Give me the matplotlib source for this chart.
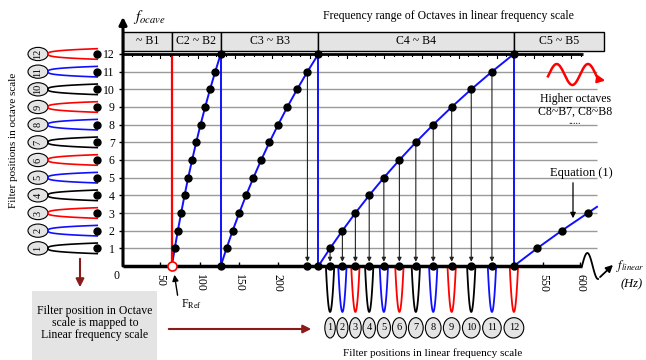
import numpy as np
import matplotlib
matplotlib.use('Agg')
import matplotlib.pyplot as plt
from matplotlib.patches import Ellipse, Rectangle, FancyArrowPatch

plt.rcParams['font.family'] = ['Liberation Serif', 'DejaVu Serif']
plt.rcParams['mathtext.fontset'] = 'stix'

# ---------------- data ----------------
octave_labels = ['~ B1', 'C2 ~ B2', 'C3 ~ B3', 'C4 ~ B4', 'C5 ~ B5']
octave_edges = [0, 65.4, 130.8, 261.6, 523.3, 644]
c2_notes = [65.4, 69.3, 73.4, 77.8, 82.4, 87.3, 92.5, 98.0, 103.8, 110.0, 116.5, 123.5, 130.8]
c3_notes = [130.8, 138.6, 146.8, 155.6, 164.8, 174.6, 185.0, 196.0, 207.7, 220.0, 233.1, 246.9, 261.6]
c4_notes = [261.6, 277.2, 293.7, 311.1, 329.6, 349.2, 370.0, 392.0, 415.3, 440.0, 466.2, 493.9, 523.3]
c5_notes = [523.3, 554.4, 587.3, 622.3]
filter_ids = [1, 2, 3, 4, 5, 6, 7, 8, 9, 10, 11, 12]
x_tick_pos = [50, 103, 155, 207, 562, 612]
x_tick_labels = ['50', '100', '150', '200', '550', '600']
y_ticks = [1, 2, 3, 4, 5, 6, 7, 8, 9, 10, 11, 12]

BLUE = '#1010ff'
RED = '#ff0000'
DRED = '#8b1a1a'
GRAYF = '#e4e4e4'
cycle_colors = ['black', BLUE, RED]

W, H = 646, 360
fig = plt.figure(figsize=(W / 100, H / 100), dpi=100)
ax = fig.add_axes([123 / W, 94 / H, 485.55 / W, 212 / H])
ax.set_xlim(0, 650)
ax.set_ylim(0, 12)
for s in ax.spines.values():
    s.set_visible(False)
ax.patch.set_visible(False)


def P(px, py):
    return (px / W, 1 - py / H)


# grid lines
ax.hlines(y_ticks[:-1], 0, 634, color='#9a9a9a', lw=1.0, zorder=1)

# axes lines
ax.plot([0, 614], [0, 0], color='k', lw=2.5, solid_capstyle='butt', zorder=5, clip_on=False)
ax.plot([0, 616], [12, 12], color='k', lw=2.0, solid_capstyle='butt', zorder=5, clip_on=False)
for f in np.arange(12.5, 616, 12.5):
    ln = 0.2 if abs(f / 50 - round(f / 50)) < 1e-6 else 0.12
    ax.plot([f, f], [12, 12 - ln], color='k', lw=0.8, zorder=5)
ax.annotate('', xy=(0, 14.1), xytext=(0, 0),
            arrowprops=dict(arrowstyle='-|>', lw=2.2, color='k', mutation_scale=11,
                            shrinkA=0, shrinkB=0), annotation_clip=False, zorder=6)

# header boxes
for i, lab in enumerate(octave_labels):
    x0, x1 = octave_edges[i], octave_edges[i + 1]
    ax.add_patch(Rectangle((x0, 12.17), x1 - x0, 1.07, fc=GRAYF, ec='k', lw=1.0,
                           clip_on=False, zorder=4))
    ax.text((x0 + x1) / 2, 12.72, lab, ha='center', va='center', fontsize=8.5, zorder=5)

# octave curves
levels = list(range(13))
for notes in [c2_notes, c3_notes, c4_notes]:
    ax.plot(notes, levels, color=BLUE, lw=1.4, zorder=3)
    ax.plot([notes[-1], notes[-1]], [12, 0], color=BLUE, lw=1.4, zorder=3)
    ax.plot(notes[1:], levels[1:], 'o', color='k', ms=5, zorder=6, clip_on=False)
ax.plot([c2_notes[0], c2_notes[0]], [0, 12], color=RED, lw=1.6, zorder=3)
# C5 partial octave (line extended slightly past last dot)
c5x = list(c5_notes) + [c5_notes[-1] + 0.35 * (c5_notes[-1] - c5_notes[-2])]
c5y = list(range(len(c5_notes))) + [len(c5_notes) - 1 + 0.35]
ax.plot(c5x, c5y, color=BLUE, lw=1.4, zorder=3)
ax.plot(c5_notes[1:], levels[1:len(c5_notes)], 'o', color='k', ms=5, zorder=6)

# mapping arrows
maps = [(c3_notes[11], 11)] + [(c4_notes[n], n) for n in range(1, 12)]
for fx, lv in maps:
    ax.annotate('', xy=(fx, 0), xytext=(fx, lv),
                arrowprops=dict(arrowstyle='-|>', lw=0.8, color='#222222', mutation_scale=6,
                                shrinkA=0, shrinkB=3), zorder=4)
axis_dots = [c3_notes[0], c3_notes[11]] + c4_notes
ax.plot(axis_dots, [0] * len(axis_dots), 'o', color='k', ms=5, zorder=7, clip_on=False)
ax.plot([c2_notes[0]], [0], 'o', mfc='white', mec=RED, ms=6.5, mew=1.2, zorder=7, clip_on=False)

# filters in linear scale (bottom)
for i, fid in enumerate(filter_ids):
    fc = c4_notes[fid]
    col = cycle_colors[i % 3]
    w = 5.6
    dx = np.linspace(-w, w, 60)
    ax.plot(fc + dx, -2.6 * (1 - (dx / w) ** 2), color=col, lw=1.3, clip_on=False, zorder=3)
    ew = 0.9 * (c4_notes[fid] - c4_notes[fid - 1])
    ax.add_patch(Ellipse((fc, -3.5), ew, 1.15, fc=GRAYF, ec='k', lw=0.8, clip_on=False))
    ax.text(fc, -3.5, str(fid), ha='center', va='center', fontsize=7.5)

# filters in octave scale (left)
for i, fid in enumerate(filter_ids):
    col = cycle_colors[i % 3]
    s = np.linspace(-1, 1, 101)
    ax.plot(-100.5 + 66 * np.abs(s) ** 3, fid + 0.3 * s, color=col, lw=1.2, clip_on=False)
    ax.plot([-34.8], [fid], 'o', color='k', ms=5, clip_on=False, zorder=6)
    ax.add_patch(Ellipse((-113.8, fid), 26.8, 0.75, fc=GRAYF, ec='k', lw=0.8, clip_on=False))
    ax.text(-113.8, fid, str(fid), ha='center', va='center', rotation=90, fontsize=7.5)

# ticks
ax.set_yticks(y_ticks)
ax.set_yticklabels([str(v) for v in y_ticks])
ax.tick_params(axis='y', direction='out', length=3, width=1, labelsize=8.5, pad=3)
ax.set_xticks(x_tick_pos)
ax.set_xticklabels(x_tick_labels, rotation=270)
ax.tick_params(axis='x', direction='in', length=3, width=1, labelsize=8.5, pad=6)

# texts
fig.text(*P(448, 16), 'Frequency range of Octaves in linear frequency scale',
         ha='center', va='center', fontsize=8.5)
fig.text(*P(150, 17), r'$f_{ocave}$', ha='center', va='center', fontsize=11)
fig.text(*P(116, 276), '0', ha='center', va='center', fontsize=8.5)
fig.text(*P(14, 140), 'Filter positions in octave scale', rotation=90,
         ha='center', va='center', fontsize=8)
fig.text(*P(433, 353), 'Filter positions in linear frequency scale',
         ha='center', va='center', fontsize=8)
fig.add_artist(Rectangle((32 / W, 0), 125 / W, 69 / H, transform=fig.transFigure,
                         fc=GRAYF, ec='none'))
fig.text(*P(95, 323), 'Filter position in Octave\nscale is mapped to\nLinear frequency scale',
         ha='center', va='center', fontsize=8.5, linespacing=1.05)
fig.add_artist(FancyArrowPatch(P(80, 256), P(80, 290), arrowstyle='-|>', mutation_scale=12,
                               lw=1.5, color=DRED, transform=fig.transFigure))
fig.add_artist(FancyArrowPatch(P(166, 329), P(314, 329), arrowstyle='-|>', mutation_scale=12,
                               lw=1.5, color=DRED, transform=fig.transFigure))
fig.add_artist(FancyArrowPatch(P(178, 298), P(174, 272), arrowstyle='-|>', mutation_scale=9,
                               lw=1.0, color='k', transform=fig.transFigure))
fig.text(*P(181, 304), r'F$_{\mathrm{Ref}}$', ha='left', va='center', fontsize=8.5)

# higher octaves wave
xw = np.linspace(548, 597, 200)
yw = 74.5 - 10.5 * np.cos(2 * np.pi * (xw - 556.7) / 31.3)
fig.add_artist(plt.Line2D(xw / W, 1 - yw / H, color=RED, lw=1.8, transform=fig.transFigure))
fig.add_artist(FancyArrowPatch(P(596, 79), P(608, 81), arrowstyle='-|>', mutation_scale=11,
                               lw=1.6, color=RED, transform=fig.transFigure))
fig.text(*P(575, 99), 'Higher octaves', ha='center', va='center', fontsize=8.5)
fig.text(*P(575, 112), 'C8~B7, C8~B8', ha='center', va='center', fontsize=8.5)
fig.text(*P(575, 126), '.....', ha='center', va='bottom', fontsize=7)

# equation annotation
fig.text(*P(581, 173), 'Equation (1)', ha='center', va='center', fontsize=9)
fig.add_artist(FancyArrowPatch(P(573, 180), P(573, 221), arrowstyle='-|>', mutation_scale=8,
                               lw=0.9, color='k', transform=fig.transFigure))

# axis squiggle and f_linear
t = np.linspace(0, 1.5 * np.pi, 100)
xs = 582 + 16 * t / (1.5 * np.pi)
ys = 266 - 13 * np.sin(t)
fig.add_artist(plt.Line2D(xs / W, 1 - ys / H, color='k', lw=1.3, transform=fig.transFigure))
fig.add_artist(FancyArrowPatch(P(598, 279), P(615, 263), arrowstyle='-|>', mutation_scale=10,
                               lw=1.3, color='k', transform=fig.transFigure))
fig.text(*P(616, 266), r'$f_{linear}$', ha='left', va='center', fontsize=9)
fig.text(*P(621, 284), '(Hz)', ha='left', va='center', fontsize=9, style='italic')

fig.savefig('out.png', dpi=100)
